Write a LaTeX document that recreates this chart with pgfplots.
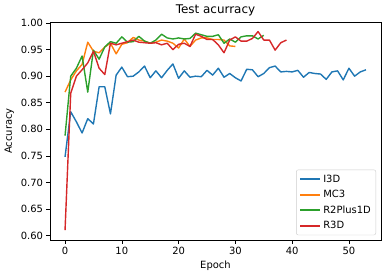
\documentclass[border=0pt]{standalone}
\usepackage{pgfplots}
\pgfplotsset{compat=1.18}
\usepackage{fontspec}
\setmainfont{DejaVu Sans}
\definecolor{c1}{HTML}{1F77B4}
\definecolor{c2}{HTML}{FF7F0E}
\definecolor{c3}{HTML}{2CA02C}
\definecolor{c4}{HTML}{D62728}
\begin{document}
\begin{tikzpicture}
\path[use as bounding box] (-50bp,-38bp) rectangle (342bp,240bp);
\begin{axis}[
  at={(0,0)}, anchor=south west,
  scale only axis, width=331bp, height=218bp,
  xmin=-2.65, xmax=55.65, ymin=0.5915, ymax=1.002,
  xtick={0,10,20,30,40,50},
  ytick={0.60,0.65,0.70,0.75,0.80,0.85,0.90,0.95,1.00},
  yticklabel style={/pgf/number format/.cd, fixed, fixed zerofill, precision=2},
  /pgf/number format/assume math mode=true,
  tick align=outside, major tick length=3.5bp,
  tick style={black, line width=0.6pt},
  xtick pos=bottom, ytick pos=left,
  axis line style={line width=0.6pt},
  ticklabel style={font=\fontsize{10}{12}\selectfont},
  title={Test acurracy}, title style={font=\fontsize{12}{14}\selectfont, yshift=-3bp},
  xlabel={Epoch}, ylabel={Accuracy},
  label style={font=\fontsize{10}{12}\selectfont},
  legend style={at={(0.985,0.022)}, anchor=south east, font=\fontsize{10}{12}\selectfont,
    draw=black!20, rounded corners=2pt, inner sep=3bp, row sep=2.5bp},
  legend cell align=left,
  legend image code/.code={\draw[#1, line width=2pt] (0bp,0bp) -- (20bp,0bp);},
  every axis plot/.append style={line width=1.4pt, line join=round, mark=none},
]
\addplot[c1] coordinates {
(0,0.748)(1,0.833)(2,0.814)(3,0.793)(4,0.820)(5,0.810)(6,0.880)(7,0.880)(8,0.829)(9,0.902)
(10,0.917)(11,0.899)(12,0.900)(13,0.908)(14,0.919)(15,0.897)(16,0.910)(17,0.897)(18,0.911)(19,0.923)
(20,0.896)(21,0.910)(22,0.898)(23,0.900)(24,0.899)(25,0.911)(26,0.902)(27,0.915)(28,0.898)(29,0.905)
(30,0.897)(31,0.891)(32,0.913)(33,0.912)(34,0.899)(35,0.905)(36,0.916)(37,0.919)(38,0.908)(39,0.909)
(40,0.908)(41,0.911)(42,0.898)(43,0.907)(44,0.905)(45,0.904)(46,0.894)(47,0.908)(48,0.910)(49,0.893)
(50,0.915)(51,0.900)(52,0.908)(53,0.912)};
\addlegendentry{I3D}
\addplot[c2] coordinates {
(0,0.870)(1,0.893)(2,0.910)(3,0.922)(4,0.964)(5,0.947)(6,0.944)(7,0.955)(8,0.962)(9,0.942)
(10,0.960)(11,0.963)(12,0.973)(13,0.968)(14,0.966)(15,0.962)(16,0.964)(17,0.968)(18,0.966)(19,0.962)
(20,0.953)(21,0.970)(22,0.956)(23,0.968)(24,0.972)(25,0.972)(26,0.969)(27,0.969)(28,0.968)(29,0.957)
(30,0.956)};
\addlegendentry{MC3}
\addplot[c3] coordinates {
(0,0.788)(1,0.900)(2,0.915)(3,0.938)(4,0.870)(5,0.949)(6,0.932)(7,0.955)(8,0.965)(9,0.962)
(10,0.974)(11,0.964)(12,0.965)(13,0.975)(14,0.966)(15,0.962)(16,0.968)(17,0.979)(18,0.972)(19,0.970)
(20,0.972)(21,0.970)(22,0.971)(23,0.981)(24,0.978)(25,0.975)(26,0.975)(27,0.978)(28,0.962)(29,0.970)
(30,0.964)(31,0.974)(32,0.976)(33,0.976)(34,0.970)(35,0.977)};
\addlegendentry{R2Plus1D}
\addplot[c4] coordinates {
(0,0.610)(1,0.868)(2,0.900)(3,0.912)(4,0.925)(5,0.947)(6,0.915)(7,0.903)(8,0.962)(9,0.959)
(10,0.962)(11,0.965)(12,0.968)(13,0.964)(14,0.963)(15,0.962)(16,0.963)(17,0.959)(18,0.962)(19,0.950)
(20,0.960)(21,0.962)(22,0.956)(23,0.979)(24,0.975)(25,0.969)(26,0.969)(27,0.959)(28,0.944)(29,0.968)
(30,0.974)(31,0.966)(32,0.966)(33,0.971)(34,0.984)(35,0.968)(36,0.968)(37,0.949)(38,0.963)(39,0.968)};
\addlegendentry{R3D}
\end{axis}
\end{tikzpicture}
\end{document}
